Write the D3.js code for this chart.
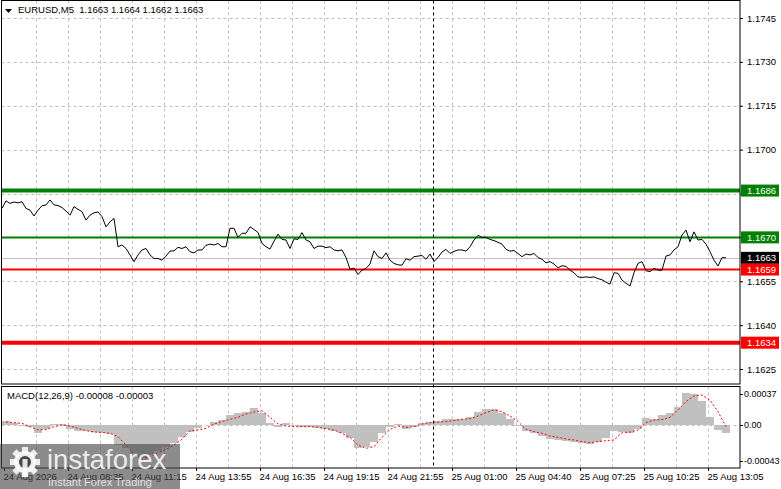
<!DOCTYPE html>
<html><head><meta charset="utf-8">
<script src="https://cdn.jsdelivr.net/npm/d3@7"></script>
<style>body{margin:0;background:#fff}svg{display:block}</style>
</head><body><svg id="c" width="781" height="489"></svg>
<script>
// ---------------- DATA ----------------
const symbolTitle = "EURUSD,M5  1.1663 1.1664 1.1662 1.1663";
const macdTitle = "MACD(12,26,9) -0.00008 -0.00003";

// close prices, one value every 2 bars (M5)
const closePrices = [
1.16799,1.16825,1.16816,1.16821,1.16818,1.16822,1.16799,1.16793,1.16773,1.16793,
1.16808,1.16811,1.16828,1.16811,1.16809,1.16802,1.16790,1.16776,1.16805,1.16796,
1.16788,1.16759,1.16776,1.16784,1.16787,1.16771,1.16736,1.16753,1.16765,1.16668,
1.16674,1.16662,1.16640,1.16617,1.16640,1.16657,1.16662,1.16640,1.16628,1.16628,
1.16622,1.16636,1.16653,1.16654,1.16666,1.16662,1.16668,1.16651,1.16647,1.16657,
1.16657,1.16673,1.16677,1.16674,1.16679,1.16668,1.16668,1.16731,1.16731,1.16700,
1.16714,1.16714,
1.16736,1.16727,1.16717,1.16679,1.16668,1.16660,1.16687,1.16711,1.16693,1.16691,
1.16662,1.16695,1.16693,1.16716,1.16691,1.16685,1.16662,1.16670,1.16670,1.16665,
1.16668,1.16657,1.16654,1.16657,1.16631,1.16591,1.16595,1.16573,1.16588,1.16594,
1.16609,1.16654,1.16634,1.16628,1.16647,1.16622,1.16611,1.16606,1.16605,1.16627,
1.16622,1.16634,1.16636,1.16638,1.16625,1.16643,1.16618,1.16631,1.16650,1.16659,
1.16645,1.16652,1.16657,1.16657,1.16653,1.16668,1.16691,1.16707,1.16700,1.16700,
1.16693,1.16689,1.16683,1.16677,1.16659,1.16653,1.16655,1.16645,1.16634,1.16643,
1.16640,1.16645,1.16631,1.16625,1.16613,1.16617,1.16609,1.16596,1.16603,1.16601,
1.16588,1.16579,1.16565,1.16563,1.16565,1.16563,1.16565,1.16559,1.16555,1.16547,
1.16540,1.16579,1.16577,1.16554,1.16543,1.16534,1.16579,1.16611,1.16617,1.16586,
1.16583,1.16594,1.16588,1.16588,1.16636,1.16640,1.16657,1.16668,1.16708,1.16725,
1.16685,1.16719,1.16691,1.16693,1.16677,1.16651,1.16622,1.16602,1.16631,1.16630
];

// MACD main (histogram) and signal, one value every 4 bars
const macdMain = [
0.000044,0.000028,-0.000012,-0.000028,-0.000092,-0.000052,0.000012,0.000012,-0.000052,-0.000068,
-0.000068,-0.00008,-0.000092,-0.000107,-0.000239,-0.000279,-0.000338,-0.000398,-0.000358,-0.000306,
-0.000259,-0.000211,-0.000147,-0.00008,-0.00004,0,0.00004,0.00006,0.000119,0.000139,
0.000159,0.000199,0.000139,0.00002,-0.000028,0.00002,-0.000012,-0.00002,-0.00002,-0.00004,
-0.000052,-0.000068,-0.000092,-0.000159,-0.000279,-0.000259,-0.000199,-0.0001,-0.00002,0.000012,
-0.000052,-0.00002,0.000028,0.00004,0.000044,0.000068,0.000072,0.000076,0.000092,0.000159,
0.000187,0.000187,0.000139,0.000068,-0.000012,-0.000068,-0.0001,-0.000131,-0.000171,-0.000179,
-0.000195,-0.000203,-0.000219,-0.000227,-0.000199,-0.000159,-0.000068,-0.00008,-0.0001,-0.000052,
0.00008,0.000068,0.000119,0.000139,0.000219,0.000378,0.00037,0.000291,0.0001,-0.00006,
-0.000092
];
const macdSignal = [
0.000036,0.000028,0.00002,-0.00002,-0.00006,-0.000052,-0.00002,0,-0.000012,-0.00004,
-0.000068,-0.000084,-0.000088,-0.0001,-0.000139,-0.000239,-0.000346,-0.00041,-0.000378,-0.00033,
-0.000291,-0.000239,-0.000171,-0.000068,-0.00006,-0.00004,0.000012,0.00004,0.000068,0.000092,
0.000131,0.000155,0.000171,0.000092,0.000012,-0.000012,-0.00002,-0.00002,-0.00002,-0.000028,
-0.000044,-0.00006,-0.0001,-0.000147,-0.000239,-0.000279,-0.000259,-0.000147,-0.000052,-0.000012,
-0.000028,-0.00002,0.000012,0.000028,0.000036,0.00004,0.000052,0.000068,0.000076,0.000107,
0.000147,0.000179,0.000159,0.000107,0.00004,-0.000052,-0.00008,-0.0001,-0.000131,-0.000147,
-0.000167,-0.000179,-0.000199,-0.000211,-0.000199,-0.000187,-0.000179,-0.000092,-0.000084,-0.00006,
0.000028,0.00006,0.000064,0.000092,0.000179,0.000279,0.000346,0.000358,0.000299,0.000159,
-0.00002
];

const priceTicks = [1.1745,1.1730,1.1715,1.1700,1.1685,1.1670,1.1655,1.1640,1.1625];
const priceTickLabels = ["1.1745","1.1730","1.1715","1.1700","","","1.1655","1.1640","1.1625"];
const macdTicks = [0.00037, 0.00, -0.00043];
const macdTickLabels = ["0.00037","0.00","-0.00043"];
const levelValues = [1.1686, 1.1670, 1.1659, 1.1634];
const currentPrice = 1.1663;
const timeLabels = ["24 Aug 2026","24 Aug 08:35","24 Aug 11:15","24 Aug 13:55","24 Aug 16:35","24 Aug 19:15",
  "24 Aug 21:55","25 Aug 01:00","25 Aug 04:40","25 Aug 07:25","25 Aug 10:25","25 Aug 13:05"];
const timeLabelBars = [1,33,65,97,129,161,193,225,257,289,321,353];
const gridBars = d3.range(17, 354, 16);
const separatorBar = 215.5;
const totalBars = 369;

// ---------------- DRAW ----------------
const svg = d3.select("#c");
const FONT = "'Liberation Sans', Arial, sans-serif";
const FS = 9.5;
const L = 1.5, R = 740, mainTop = 0.5, mainBot = 384, macdTop = 386.5, macdBot = 468;

const x = d3.scaleLinear().domain([0, totalBars]).range([2, R]);
const y = d3.scaleLinear().domain([1.1625, 1.1745]).range([369, 18]);
const ym = d3.scaleLinear().domain([-0.00043, 0.00037]).range([461, 394]);

svg.append("rect").attr("width",781).attr("height",489).attr("fill","#fff");

const defs = svg.append("defs");
defs.append("clipPath").attr("id","cm").append("rect").attr("x",L).attr("y",mainTop).attr("width",R-L).attr("height",mainBot-mainTop);
defs.append("clipPath").attr("id","cd").append("rect").attr("x",L).attr("y",macdTop).attr("width",R-L).attr("height",macdBot-macdTop);

const gm = svg.append("g").attr("clip-path","url(#cm)");
const gd = svg.append("g").attr("clip-path","url(#cd)");

// vertical grid
[gm, gd].forEach((g,k) => {
  g.selectAll(".vg").data(gridBars).enter().append("line")
    .attr("x1", d => Math.round(x(d))+0.5).attr("x2", d => Math.round(x(d))+0.5)
    .attr("y1", k ? macdTop : mainTop).attr("y2", k ? macdBot : mainBot)
    .attr("stroke","#c0c0c0").attr("stroke-dasharray","3,3");
});
// horizontal grid main
gm.selectAll(".hg").data(priceTicks).enter().append("line")
  .attr("x1",L).attr("x2",R).attr("y1",d=>Math.round(y(d))+0.5).attr("y2",d=>Math.round(y(d))+0.5)
  .attr("stroke","#c0c0c0").attr("stroke-dasharray","3,3");
// zero line macd
gd.append("line").attr("x1",L).attr("x2",R).attr("y1",Math.round(ym(0))+0.5).attr("y2",Math.round(ym(0))+0.5)
  .attr("stroke","#c0c0c0").attr("stroke-dasharray","3,3");

// current price line
gm.append("line").attr("x1",L).attr("x2",R).attr("y1",Math.round(y(currentPrice))+0.5).attr("y2",Math.round(y(currentPrice))+0.5)
  .attr("stroke","#c0c0c0");

// levels
const levelColor = ["#008000","#008000","#ff0000","#ff0000"];
const levelWidth = [4,2,2,4];
gm.selectAll(".lv").data(levelValues).enter().append("line")
  .attr("x1",L).attr("x2",R).attr("y1",d=>y(d)).attr("y2",d=>y(d))
  .attr("stroke",(d,i)=>levelColor[i]).attr("stroke-width",(d,i)=>levelWidth[i]);

// price line
const line = d3.line().x((d,i)=>x(i*2)).y(d=>y(d));
gm.append("path").datum(closePrices).attr("d",line).attr("fill","none").attr("stroke","#000").attr("stroke-width",1);

// MACD histogram
gd.selectAll(".hb").data(macdMain).enter().append("rect")
  .attr("x",(d,i)=>x(i*4)).attr("width",(d,i)=>x(i*4+4)-x(i*4))
  .attr("y",d=>Math.min(ym(d),ym(0))).attr("height",d=>Math.abs(ym(d)-ym(0)))
  .attr("fill","#c0c0c0").attr("shape-rendering","crispEdges");
// signal
const sline = d3.line().x((d,i)=>x(i*4+2)).y(d=>ym(d));
gd.append("path").datum(macdSignal).attr("d",sline).attr("fill","none").attr("stroke","#ff0000")
  .attr("stroke-width",1).attr("stroke-dasharray","2,2");

// separator
svg.append("line").attr("x1",Math.round(x(separatorBar))+0.5).attr("x2",Math.round(x(separatorBar))+0.5)
  .attr("y1",mainTop).attr("y2",macdBot).attr("stroke","#000").attr("stroke-dasharray","3,3");

// frames
svg.append("rect").attr("x",L).attr("y",mainTop).attr("width",R-L).attr("height",mainBot-mainTop)
  .attr("fill","none").attr("stroke","#000");
svg.append("rect").attr("x",L).attr("y",macdTop).attr("width",R-L).attr("height",macdBot-macdTop)
  .attr("fill","none").attr("stroke","#000");

// right axis price
const ax = d3.axisRight(y).tickValues(priceTicks).tickSize(3).tickPadding(4).tickFormat((d,i)=>priceTickLabels[i]);
const gax = svg.append("g").attr("transform",`translate(${R},0)`).call(ax);
gax.select(".domain").remove();
gax.selectAll("text").attr("font-family",FONT).attr("font-size",FS).attr("fill","#000");
gax.selectAll("line").attr("stroke","#000");

// right axis macd
const axm = d3.axisRight(ym).tickValues(macdTicks).tickSize(3).tickPadding(1).tickFormat((d,i)=>macdTickLabels[i]);
const gaxm = svg.append("g").attr("transform",`translate(${R},0)`).call(axm);
gaxm.select(".domain").remove();
gaxm.selectAll("text").attr("font-family",FONT).attr("font-size",9).attr("fill","#000");
gaxm.selectAll("line").attr("stroke","#000");

// level label boxes
const boxVals = [levelValues[0], levelValues[1], currentPrice, levelValues[2], levelValues[3]];
const boxColors = ["#008000","#008000","#000000","#ff0000","#ff0000"];
const bg = svg.append("g");
boxVals.forEach((v,i)=>{
  const yy = y(v);
  bg.append("rect").attr("x",R+1).attr("y",yy-6).attr("width",38).attr("height",12).attr("fill",boxColors[i]);
  bg.append("text").attr("x",R+7).attr("y",yy+3.5).attr("font-family",FONT).attr("font-size",FS)
    .attr("fill","#fff").text(d3.format(".4f")(v));
});

// bottom axis
const axb = d3.axisBottom(x).tickValues(timeLabelBars).tickSize(3).tickFormat((d,i)=>timeLabels[i]);
const gaxb = svg.append("g").attr("transform",`translate(0,${macdBot})`).call(axb);
gaxb.select(".domain").remove();
gaxb.selectAll("line").attr("stroke","#000");
gaxb.selectAll("text").attr("font-family",FONT).attr("font-size",FS).attr("fill","#000")
  .attr("text-anchor","start").attr("dx",-1).attr("dy","0.65em");

// titles
svg.append("path").attr("d","M5,9 L12,9 L8.5,13 Z").attr("fill","#000");
svg.append("text").attr("x",18).attr("y",13).attr("font-family",FONT).attr("font-size",FS)
  .attr("fill","#000").style("white-space","pre").text(symbolTitle);
svg.append("text").attr("x",7).attr("y",399).attr("font-family",FONT).attr("font-size",FS)
  .attr("fill","#000").text(macdTitle);

// watermark
const wm = svg.append("g");
wm.append("rect").attr("x",0).attr("y",444).attr("width",180).attr("height",45).attr("fill","rgba(70,70,70,0.62)");
const gear = wm.append("g").attr("transform","translate(25,462)").attr("fill","rgba(255,255,255,0.85)");
d3.range(8).forEach(k=>{
  gear.append("rect").attr("x",-3).attr("y",-15).attr("width",6).attr("height",7)
    .attr("transform",`rotate(${k*45})`);
});
gear.append("circle").attr("r",11);
gear.append("circle").attr("r",6).attr("fill","rgba(70,70,70,1)");
gear.append("rect").attr("x",-2.5).attr("y",-3).attr("width",5).attr("height",18);
wm.append("text").attr("x",47).attr("y",469).attr("font-family",FONT).attr("font-size",27.5)
  .attr("fill","rgba(255,255,255,0.85)").text("instaforex");
wm.append("text").attr("x",48).attr("y",486).attr("font-family",FONT).attr("font-size",11)
  .attr("fill","rgba(255,255,255,0.75)").text("Instant Forex Trading");
</script></body></html>
